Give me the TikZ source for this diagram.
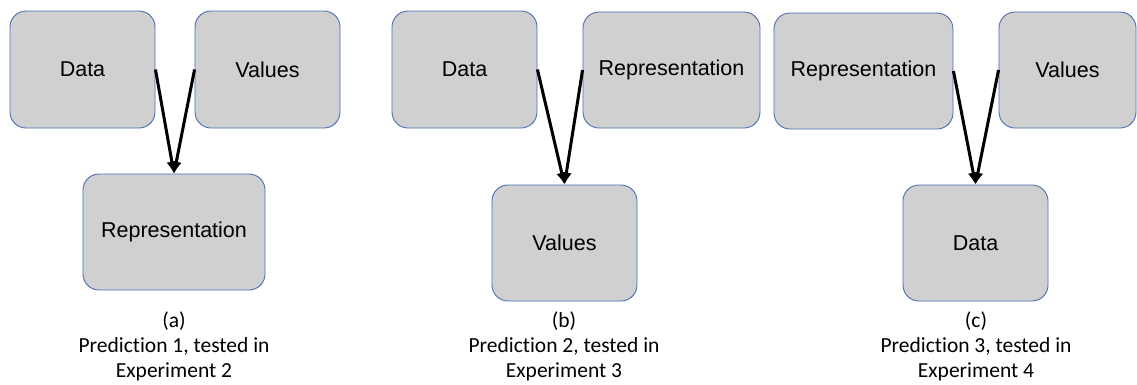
\documentclass[tikz,border=0pt]{standalone}
\usepackage{fontspec}
\setmainfont{Liberation Sans}
\newfontfamily\capfont[Ligatures=NoCommon]{Carlito}
\usetikzlibrary{arrows.meta}
\definecolor{boxfill}{HTML}{D0D0D0}
\definecolor{boxline}{HTML}{4A6FB5}
\tikzset{
  card/.style={draw=boxline, fill=boxfill, line width=0.9pt, rounded corners=16pt,
    font=\fontsize{21.5}{24}\selectfont, inner sep=0pt},
  flow/.style={line width=3pt, -{Latex[length=12pt,width=11pt]}},
  caption/.style={font=\capfont\fontsize{21.5}{25}\selectfont, align=center}
}
\begin{document}
\begin{tikzpicture}[x=1pt,y=-1pt]
\useasboundingbox (0,0) rectangle (1137,384);
% (a)
\node[card, minimum width=145pt, minimum height=117pt] (a1) at (82.5,69.5) {Data};
\node[card, minimum width=145pt, minimum height=117pt] (a2) at (267.5,69.5) {Values};
\node[card, minimum width=182pt, minimum height=116pt] (a3) at (174,232) {Representation};
\draw[flow] (a1.east) -- (a3.north);
\draw[flow] (a2.west) -- (a3.north);
\node[caption] (ca) at (174,346) {(a)\\Prediction 1, tested in\\Experiment 2};
% (b)
\node[card, minimum width=145pt, minimum height=117pt] (b1) at (464.5,69.5) {Data};
\node[card, minimum width=177pt, minimum height=116pt] (b2) at (671.5,70) {Representation};
\node[card, minimum width=145pt, minimum height=116pt] (b3) at (564.5,243) {Values};
\draw[flow] (b1.east) -- (b3.north);
\draw[flow] (b2.west) -- (b3.north);
\node[caption] (cb) at (564,346) {(b)\\Prediction 2, tested in\\Experiment 3};
% (c)
\node[card, minimum width=179pt, minimum height=116pt] (c1) at (863.5,71) {Representation};
\node[card, minimum width=137pt, minimum height=116pt] (c2) at (1067.5,70) {Values};
\node[card, minimum width=145pt, minimum height=116pt] (c3) at (975.5,243) {Data};
\draw[flow] (c1.east) -- (c3.north);
\draw[flow] (c2.west) -- (c3.north);
\node[caption] (cc) at (976,346) {(c)\\Prediction 3, tested in\\Experiment 4};
\end{tikzpicture}
\end{document}
